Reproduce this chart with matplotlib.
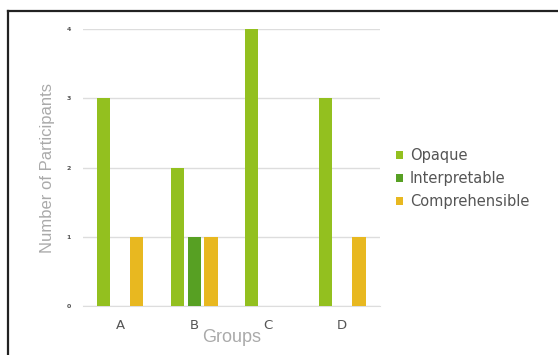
import matplotlib
matplotlib.use("Agg")
import matplotlib.pyplot as plt
from matplotlib.lines import Line2D
from matplotlib.patches import Patch

groups = ["A", "B", "C", "D"]
series = ["Opaque", "Interpretable", "Comprehensible"]
opaque = [3, 2, 4, 3]
interpretable = [0, 1, 0, 0]
comprehensible = [1, 1, 0, 1]
colors = ["#93c01f", "#57a023", "#e8b820"]
yticks = [0, 1, 2, 3, 4]

fig = plt.figure(figsize=(5.58, 3.55), dpi=100)
ax = fig.add_axes([0.149, 0.138, 0.532, 0.78])

x = range(len(groups))
w = 0.18
off = 0.225
for k, (vals, col) in enumerate(zip([opaque, interpretable, comprehensible], colors)):
    ax.bar([i + (k - 1) * off for i in x], vals, width=w, color=col,
           edgecolor="none", zorder=3, label=series[k])

ax.set_xlim(-0.5, 3.51)
ax.set_ylim(0, 4)
ax.set_yticks(yticks)
ax.set_yticklabels([str(t) for t in yticks], fontsize=4.5, color="#555555",
                   fontweight="bold")
ax.set_xticks(list(x))
ax.set_xticklabels(groups, fontsize=9.5, color="#555555")
ax.tick_params(axis="both", length=0)
ax.tick_params(axis="y", pad=9)
ax.tick_params(axis="x", pad=9)
ax.grid(axis="y", color="#dddddd", linewidth=1, zorder=0)
for s in ["top", "right", "left"]:
    ax.spines[s].set_visible(False)
ax.spines["bottom"].set_color("#dddddd")

ax.set_ylabel("Number of Participants", fontsize=12, color="#aaaaaa",
              family="Liberation Sans", labelpad=8)
ax.set_xlabel("Groups", fontsize=13, color="#aaaaaa",
              family="Liberation Sans", labelpad=-2)

handles = [Patch(facecolor=c, edgecolor="none") for c in colors]
leg = fig.legend(handles, series, loc="center left", bbox_to_anchor=(0.686, 0.497),
                 frameon=False, handlelength=0.5, handleheight=0.5,
                 handletextpad=0.45, labelspacing=0.55,
                 prop={"family": "DejaVu Sans", "size": 10.5})
for t in leg.get_texts():
    t.set_color("#555555")

# frame lines along the top and left edges
fig.add_artist(Line2D([8 / 558, 1], [1 - 11 / 355, 1 - 11 / 355],
                      transform=fig.transFigure, color="#222222", linewidth=1.6))
fig.add_artist(Line2D([8 / 558, 8 / 558], [0, 1 - 11 / 355],
                      transform=fig.transFigure, color="#222222", linewidth=1.6))

fig.savefig("out.png", dpi=100)
